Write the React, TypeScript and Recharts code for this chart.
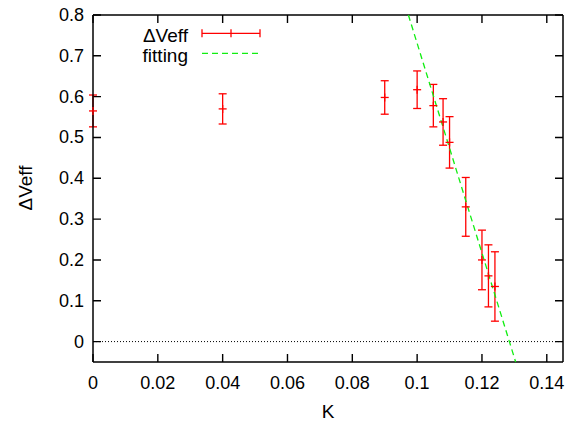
import React from 'react';
import { ComposedChart, Scatter, XAxis, YAxis, ErrorBar, ReferenceLine, Legend } from 'recharts';

const kValues = [0, 0.04, 0.09, 0.1, 0.105, 0.108, 0.11, 0.115, 0.12, 0.122, 0.124];
const dVeffValues = [0.565, 0.57, 0.598, 0.617, 0.578, 0.538, 0.488, 0.33, 0.2, 0.161, 0.135];
const errValues = [0.039, 0.037, 0.041, 0.046, 0.052, 0.057, 0.063, 0.072, 0.073, 0.076, 0.085];
const fitK = [0.0973, 0.1304];
const fitValues = [0.8, -0.05];
const xTicks = [0, 0.02, 0.04, 0.06, 0.08, 0.1, 0.12, 0.14];
const yTicks = [0, 0.1, 0.2, 0.3, 0.4, 0.5, 0.6, 0.7, 0.8];
const xDomain = [0, 0.145];
const yDomain = [-0.05, 0.8];

const points = kValues.map((k, i) => ({ k, v: dVeffValues[i], err: errValues[i] }));
const fit = fitK.map((k, i) => ({ k, v: fitValues[i] }));

const FONT = '"Liberation Sans", Arial, Helvetica, sans-serif';
const RED = '#ff0000';
const GREEN = '#11ee11';
const FS = 18;
const PLOT_W = 470;
const PLOT_H = 347;
const TICK_LEN = 8;
// full-height / full-width reference lines dashed so only both ends show: inward tick marks
const V_TICK_DASH = `${TICK_LEN} ${PLOT_H - 2 * TICK_LEN} ${TICK_LEN} 0`;
const H_TICK_DASH = `${TICK_LEN} ${PLOT_W - 2 * TICK_LEN} ${TICK_LEN} 0`;

const PlusShape = (props: any) => {
  const { cx, cy } = props;
  if (cx == null || cy == null) return <g />;
  return (
    <g stroke={RED} strokeWidth={1.3}>
      <line x1={cx - 4} y1={cy} x2={cx + 4} y2={cy} />
      <line x1={cx} y1={cy - 4} x2={cx} y2={cy + 4} />
    </g>
  );
};

const NoShape = () => <g />;

const BottomTick = (props: any) => {
  const { x, y, payload } = props;
  return (
    <text x={x} y={y + 21} textAnchor="middle" dominantBaseline="central" fontSize={FS} fontFamily={FONT} fill="#000">
      {String(payload.value)}
    </text>
  );
};

const LeftTick = (props: any) => {
  const { x, y, payload } = props;
  return (
    <text x={x - 9} y={y} textAnchor="end" dominantBaseline="central" fontSize={FS} fontFamily={FONT} fill="#000">
      {String(payload.value)}
    </text>
  );
};

const LegendBox = () => (
  <svg width={170} height={46} style={{ display: 'block', overflow: 'visible' }}>
    <text x={88} y={15} textAnchor="end" dominantBaseline="central" fontSize={19} fontFamily={FONT} fill="#000">ΔVeff</text>
    <g stroke={RED} strokeWidth={1.3}>
      <line x1={102} y1={13.3} x2={160} y2={13.3} />
      <line x1={102} y1={9.3} x2={102} y2={17.3} />
      <line x1={160} y1={9.3} x2={160} y2={17.3} />
      <line x1={131} y1={9.3} x2={131} y2={17.3} />
    </g>
    <text x={88} y={35} textAnchor="end" dominantBaseline="central" fontSize={19} fontFamily={FONT} fill="#000">fitting</text>
    <line x1={102} y1={33.3} x2={160} y2={33.3} stroke={GREEN} strokeWidth={1.3} strokeDasharray="6 4" />
  </svg>
);

export default function App() {
  return (
    <div style={{ position: 'absolute', left: 0, top: 0 }}>
      <ComposedChart
        width={584}
        height={429}
        margin={{ top: 15, right: 21, bottom: 22, left: 8 }}
        style={{ fontFamily: FONT }}
      >
        <XAxis
          xAxisId="b"
          dataKey="k"
          type="number"
          domain={xDomain}
          ticks={xTicks}
          orientation="bottom"
          height={45}
          stroke="#000"
          strokeWidth={1.5}
          tickLine={false}
          tickSize={0}
          tickMargin={0}
          tick={BottomTick}
          interval={0}
          label={{
            content: () => (
              <text x={328} y={411} textAnchor="middle" dominantBaseline="central" fontSize={19} fontFamily={FONT} fill="#000">K</text>
            ),
          }}
        />
        <YAxis
          yAxisId="l"
          type="number"
          domain={yDomain}
          ticks={yTicks}
          orientation="left"
          width={85}
          stroke="#000"
          strokeWidth={1.5}
          tickLine={false}
          tickSize={0}
          tickMargin={0}
          tick={LeftTick}
          interval={0}
          label={{
            content: () => (
              <text x={25} y={188} transform="rotate(-90 25 188)" textAnchor="middle" dominantBaseline="central" fontSize={19} fontFamily={FONT} fill="#000">ΔVeff</text>
            ),
          }}
        />
        <ReferenceLine xAxisId="b" yAxisId="l" y={yDomain[1]} stroke="#000" strokeWidth={1.5} />
        <ReferenceLine xAxisId="b" yAxisId="l" x={xDomain[1]} stroke="#000" strokeWidth={1.5} />
        <ReferenceLine xAxisId="b" yAxisId="l" y={0} stroke="#000" strokeWidth={1} strokeDasharray="1 2" />
        {xTicks.map((t) => (
          <ReferenceLine
            key={'xt' + t}
            xAxisId="b"
            yAxisId="l"
            x={t}
            stroke="#000"
            strokeWidth={1.4}
            strokeDasharray={V_TICK_DASH}
          />
        ))}
        {yTicks.map((t) => (
          <ReferenceLine
            key={'yt' + t}
            xAxisId="b"
            yAxisId="l"
            y={t}
            stroke="#000"
            strokeWidth={1.4}
            strokeDasharray={H_TICK_DASH}
          />
        ))}
        <Scatter
          xAxisId="b"
          yAxisId="l"
          data={fit}
          dataKey="v"
          shape={NoShape}
          line={{ stroke: GREEN, strokeWidth: 1.3, strokeDasharray: '6 4' }}
          isAnimationActive={false}
        />
        <Scatter
          xAxisId="b"
          yAxisId="l"
          data={points}
          dataKey="v"
          shape={PlusShape}
          isAnimationActive={false}
        >
          <ErrorBar dataKey="err" direction="y" width={4} stroke={RED} strokeWidth={1.3} isAnimationActive={false} />
        </Scatter>
        <Legend
          layout="vertical"
          align="center"
          verticalAlign="middle"
          content={() => <LegendBox />}
          wrapperStyle={{ left: 100, top: 20, width: 170, height: 46 }}
        />
      </ComposedChart>
    </div>
  );
}
